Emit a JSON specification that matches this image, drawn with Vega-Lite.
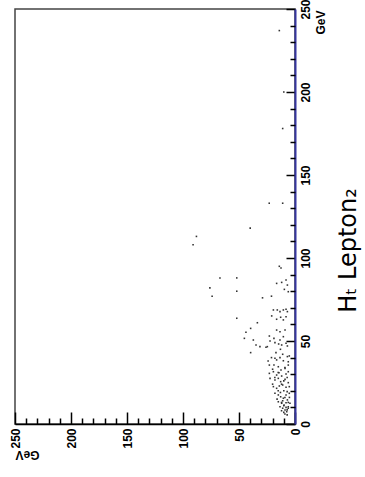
{
  "$schema": "https://vega.github.io/schema/vega-lite/v6.json",
  "width": 280,
  "height": 415,
  "autosize": "none",
  "padding": {"left": 15, "top": 9, "right": 70, "bottom": 53},
  "background": "white",
  "config": {
    "view": {"stroke": "#444444", "strokeWidth": 1.5},
    "axis": {"grid": false, "labelFlush": false, "labelOverlap": false}
  },
  "title": {
    "text": "Hₜ Lepton₂",
    "orient": "right",
    "angle": 270,
    "font": "DejaVu Sans",
    "fontSize": 24,
    "fontWeight": "normal",
    "color": "black",
    "anchor": "middle",
    "offset": -13,
    "dx": -34
  },
  "datasets": {
    "pts": [
      {"x": 14, "y": 237}, {"x": 10, "y": 200}, {"x": 11, "y": 178}, {"x": 23, "y": 133}, {"x": 11, "y": 133},
      {"x": 40, "y": 118}, {"x": 88, "y": 113}, {"x": 91, "y": 108},
      {"x": 67, "y": 88}, {"x": 52, "y": 88}, {"x": 76, "y": 82}, {"x": 74, "y": 77}, {"x": 52, "y": 80}, {"x": 29, "y": 76}, {"x": 21, "y": 77},
      {"x": 14, "y": 95}, {"x": 12.5, "y": 94}, {"x": 16.4, "y": 84.7}, {"x": 11.9, "y": 85.3}, {"x": 8, "y": 86.7}, {"x": 6.8, "y": 83.7}, {"x": 9.5, "y": 81.1}, {"x": 6, "y": 79.7},
      {"x": 52, "y": 63.7}, {"x": 33.6, "y": 61}, {"x": 39.6, "y": 57.6}, {"x": 43.8, "y": 55.3}, {"x": 45.2, "y": 51.6}, {"x": 37.2, "y": 50.6}, {"x": 34.8, "y": 47.6}, {"x": 31.3, "y": 46.6}, {"x": 25.9, "y": 46.2}, {"x": 24.7, "y": 46.6}, {"x": 39.6, "y": 43},
      {"x": 19.3, "y": 68.7}, {"x": 15.8, "y": 68.7}, {"x": 13.4, "y": 67.7}, {"x": 10.4, "y": 68.7}, {"x": 8, "y": 69.1}, {"x": 6.8, "y": 67.7},
      {"x": 20.8, "y": 65.1}, {"x": 16.4, "y": 63.1}, {"x": 12.8, "y": 64.3}, {"x": 10.4, "y": 62.7}, {"x": 8, "y": 64.6},
      {"x": 22.9, "y": 53}, {"x": 22.3, "y": 50}, {"x": 18.8, "y": 51.6}, {"x": 17.9, "y": 49}, {"x": 13.4, "y": 50.6}, {"x": 11.9, "y": 47.6}, {"x": 8, "y": 48.6}, {"x": 6.8, "y": 47}, {"x": 14.6, "y": 48.2}, {"x": 10.4, "y": 52.6}, {"x": 16.4, "y": 56.6}, {"x": 13.4, "y": 55.6}, {"x": 8.9, "y": 56.6},
      {"x": 17.9, "y": 39.6}, {"x": 16.4, "y": 38.6}, {"x": 13.4, "y": 40}, {"x": 10.4, "y": 38.1}, {"x": 6.8, "y": 40.6}, {"x": 5.1, "y": 41}, {"x": 6, "y": 37.5},
      {"x": 22.9, "y": 35.5}, {"x": 18.8, "y": 35.5}, {"x": 14.9, "y": 34.5}, {"x": 12.5, "y": 32.5}, {"x": 8.9, "y": 33.5}, {"x": 6, "y": 35.5},
      {"x": 22.9, "y": 30.5}, {"x": 19.3, "y": 31.5}, {"x": 16.4, "y": 29.5}, {"x": 14.3, "y": 30.9}, {"x": 11.9, "y": 28.9}, {"x": 8, "y": 30.1}, {"x": 6, "y": 31.5},
      {"x": 22.3, "y": 27.5}, {"x": 17.9, "y": 26.5}, {"x": 14.9, "y": 27.5}, {"x": 12.8, "y": 25.5}, {"x": 8.9, "y": 26.9}, {"x": 6, "y": 24.9},
      {"x": 19.3, "y": 22.5}, {"x": 16.4, "y": 21.5}, {"x": 14, "y": 22.9}, {"x": 11, "y": 23.5}, {"x": 8, "y": 22.1}, {"x": 5.1, "y": 22.5},
      {"x": 17.9, "y": 18.5}, {"x": 14.9, "y": 17.5}, {"x": 12.8, "y": 16.4}, {"x": 10.4, "y": 15.5}, {"x": 8, "y": 17.5}, {"x": 5.1, "y": 18.5}, {"x": 6.8, "y": 14.5},
      {"x": 14.9, "y": 13.4}, {"x": 11.9, "y": 12.5}, {"x": 9.8, "y": 11.4}, {"x": 8, "y": 12.8}, {"x": 6, "y": 10.4}, {"x": 4.5, "y": 12.5}, {"x": 8.9, "y": 8.4}, {"x": 7.4, "y": 7.4}, {"x": 6, "y": 9.5}, {"x": 11, "y": 9.5}, {"x": 13.4, "y": 10.4},
      {"x": 9, "y": 6}, {"x": 7, "y": 8.5}, {"x": 10, "y": 7}, {"x": 12, "y": 8}, {"x": 8, "y": 10}, {"x": 6, "y": 13}, {"x": 11, "y": 14}, {"x": 9, "y": 16}, {"x": 13, "y": 19}, {"x": 10, "y": 20},
      {"x": 7, "y": 19.5}, {"x": 12, "y": 24}, {"x": 15, "y": 20}, {"x": 18, "y": 28}, {"x": 20, "y": 33}, {"x": 21, "y": 40}, {"x": 17, "y": 43}, {"x": 24, "y": 38}, {"x": 10, "y": 26}, {"x": 7, "y": 28},
      {"x": 9, "y": 34}, {"x": 11, "y": 42}, {"x": 13, "y": 45}, {"x": 15, "y": 31}, {"x": 20, "y": 24}, {"x": 16, "y": 15}, {"x": 12, "y": 13}, {"x": 5, "y": 16}, {"x": 7, "y": 5.5}, {"x": 10, "y": 11}
    ]
  },
  "layer": [
    {
      "data": {"name": "pts"},
      "mark": {"type": "square", "size": 2.5, "color": "#333333", "opacity": 1},
      "encoding": {
        "x": {
          "field": "x", "type": "quantitative",
          "scale": {"domain": [0, 250], "reverse": true, "nice": false, "zero": false},
          "axis": {
            "orient": "bottom", "values": [0, 50, 100, 150, 200, 250],
            "tickSize": -12, "tickWidth": 1.5, "tickColor": "black",
            "domainColor": "black", "domainWidth": 1.5,
            "labelAngle": 270, "labelAlign": "right", "labelBaseline": "middle",
            "labelFont": "Liberation Sans", "labelFontSize": 12, "labelFontWeight": "bold", "labelColor": "black", "labelPadding": 16,
            "title": "GeV", "titleAngle": 180, "titleX": 12, "titleY": 30, "titleAlign": "center", "titleBaseline": "middle",
            "titleFont": "Liberation Sans", "titleFontSize": 12, "titleFontWeight": "bold", "titleColor": "black"
          }
        },
        "y": {
          "field": "y", "type": "quantitative",
          "scale": {"domain": [0, 250], "nice": false, "zero": false},
          "axis": {
            "orient": "right", "values": [0, 50, 100, 150, 200, 250],
            "tickSize": -9, "tickWidth": 1.5, "tickColor": "black",
            "domainColor": "#3535a0", "domainWidth": 2,
            "labelAngle": 270, "labelAlign": "center", "labelBaseline": "top",
            "labelFont": "Liberation Sans", "labelFontSize": 12, "labelFontWeight": "bold", "labelColor": "black", "labelPadding": 14,
            "title": "GeV", "titleAngle": 270, "titleX": 25, "titleY": 13, "titleAlign": "center", "titleBaseline": "middle",
            "titleFont": "Liberation Sans", "titleFontSize": 12, "titleFontWeight": "bold", "titleColor": "black"
          }
        }
      }
    },
    {
      "data": {"values": []},
      "mark": {"type": "point", "opacity": 0},
      "encoding": {
        "x": {
          "field": "x", "type": "quantitative",
          "axis": {
            "orient": "bottom", "values": [10, 20, 30, 40, 60, 70, 80, 90, 110, 120, 130, 140, 160, 170, 180, 190, 210, 220, 230, 240],
            "tickSize": -6, "tickWidth": 1.5, "tickColor": "black", "domain": false, "labels": false, "title": null
          }
        },
        "y": {
          "field": "y", "type": "quantitative",
          "axis": {
            "orient": "right", "values": [10, 20, 30, 40, 60, 70, 80, 90, 110, 120, 130, 140, 160, 170, 180, 190, 210, 220, 230, 240],
            "tickSize": -5, "tickWidth": 1.5, "tickColor": "black", "domain": false, "labels": false, "title": null
          }
        }
      }
    }
  ],
  "resolve": {"axis": {"x": "independent", "y": "independent"}}
}
